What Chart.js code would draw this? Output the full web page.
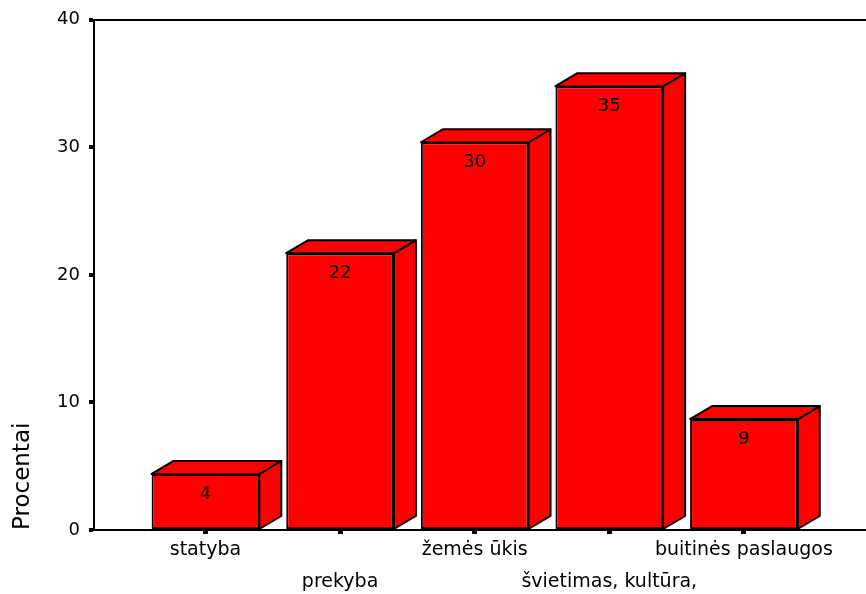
<!DOCTYPE html>
<html lang="lt">
<head>
    <meta charset="UTF-8">
    <script src="https://cdn.jsdelivr.net/npm/chart.js"></script>
    <title>Procentai</title>
</head>
<style>
    body { margin: 0; background: #fff; }
    .chartBox { width: 866px; height: 594px; }
</style>
<body>
    <div class="chartBox"><canvas id="barChart"></canvas></div>
</body>
<script>
    // categories (labels alternate between two rows under the axis)
    const categories = ['statyba', 'prekyba', 'žemės ūkis', 'švietimas, kultūra,', 'buitinės paslaugos'];
    const percentValues = [4.4, 21.7, 30.4, 34.8, 8.7];
    const yTicks = [0, 10, 20, 30, 40];

    Chart.defaults.font.family = 'DejaVu Sans';
    Chart.defaults.color = '#000';

    // draws top and side faces of each bar plus the value label on the front
    const boxPlugin = {
        id: 'boxPlugin',
        afterDatasetsDraw(chart) {
            const ctx = chart.ctx;
            const meta = chart.getDatasetMeta(0);
            const dx = 22, dy = 13;
            ctx.save();
            ctx.fillStyle = '#ff0000';
            ctx.strokeStyle = '#000';
            ctx.lineWidth = 2;
            ctx.lineJoin = 'round';
            meta.data.forEach(bar => {
                const p = bar.getProps(['x', 'y', 'base', 'width'], true);
                const left = p.x - p.width / 2;
                const right = p.x + p.width / 2;
                // side
                ctx.beginPath();
                ctx.moveTo(right, p.base);
                ctx.lineTo(right + dx, p.base - dy);
                ctx.lineTo(right + dx, p.y - dy);
                ctx.lineTo(right, p.y);
                ctx.closePath();
                ctx.fill();
                ctx.stroke();
                // top
                ctx.beginPath();
                ctx.moveTo(left, p.y);
                ctx.lineTo(left + dx, p.y - dy);
                ctx.lineTo(right + dx, p.y - dy);
                ctx.lineTo(right, p.y);
                ctx.closePath();
                ctx.fill();
                ctx.stroke();
            });
            ctx.fillStyle = '#000';
            ctx.font = '18px "DejaVu Sans"';
            ctx.textAlign = 'center';
            ctx.textBaseline = 'middle';
            meta.data.forEach((bar, i) => {
                const p = bar.getProps(['x', 'y'], true);
                ctx.fillText(String(Math.round(percentValues[i])), p.x, p.y + 20);
            });
            ctx.restore();
        }
    };

    const ctx = document.getElementById('barChart').getContext('2d');
    const chart = new Chart(ctx, {
        type: 'bar',
        data: {
            datasets: [{
                data: percentValues.map((v, i) => ({ x: i, y: v })),
                backgroundColor: '#ff0000',
                borderColor: '#000',
                borderWidth: 2,
                borderSkipped: false,
                barPercentage: 0.8,
                categoryPercentage: 1.0
            }]
        },
        options: {
            responsive: true,
            maintainAspectRatio: false,
            animation: false,
            layout: { padding: { top: 19, right: 0, bottom: 0, left: 0 } },
            plugins: {
                legend: { display: false },
                tooltip: { enabled: false }
            },
            scales: {
                x: {
                    type: 'linear',
                    offset: false,
                    min: -0.828,
                    max: 4.907,
                    afterBuildTicks: (scale) => {
                        scale.ticks = categories.map((c, i) => ({ value: i }));
                    },
                    afterFit: (scale) => { scale.height = 64; },
                    border: { display: true, color: '#000', width: 2 },
                    grid: {
                        offset: false,
                        drawOnChartArea: false,
                        tickColor: '#000',
                        tickLength: 4,
                        tickWidth: 5
                    },
                    ticks: {
                        padding: 0,
                        maxRotation: 0,
                        autoSkip: false,
                        font: { size: 19, lineHeight: 1.68 },
                        callback: (value) => {
                            const i = Math.round(value);
                            return i % 2 === 0 ? categories[i] : ['', categories[i]];
                        }
                    }
                },
                y: {
                    min: 0,
                    max: 40,
                    afterBuildTicks: (scale) => {
                        scale.ticks = yTicks.map(v => ({ value: v }));
                    },
                    afterFit: (scale) => { scale.width = 94; },
                    border: { display: true, color: '#000', width: 2 },
                    grid: {
                        color: (c) => (c.tick && c.tick.value === 40 ? '#000' : 'rgba(0,0,0,0)'),
                        lineWidth: 2,
                        tickColor: '#000',
                        tickLength: 5,
                        tickWidth: 4
                    },
                    ticks: {
                        padding: 9,
                        font: { size: 18 }
                    },
                    title: {
                        display: true,
                        text: 'Procentai',
                        align: 'start',
                        padding: { top: 9, bottom: 0 },
                        font: { size: 23 }
                    }
                }
            }
        },
        plugins: [boxPlugin]
    });
</script>
</html>
